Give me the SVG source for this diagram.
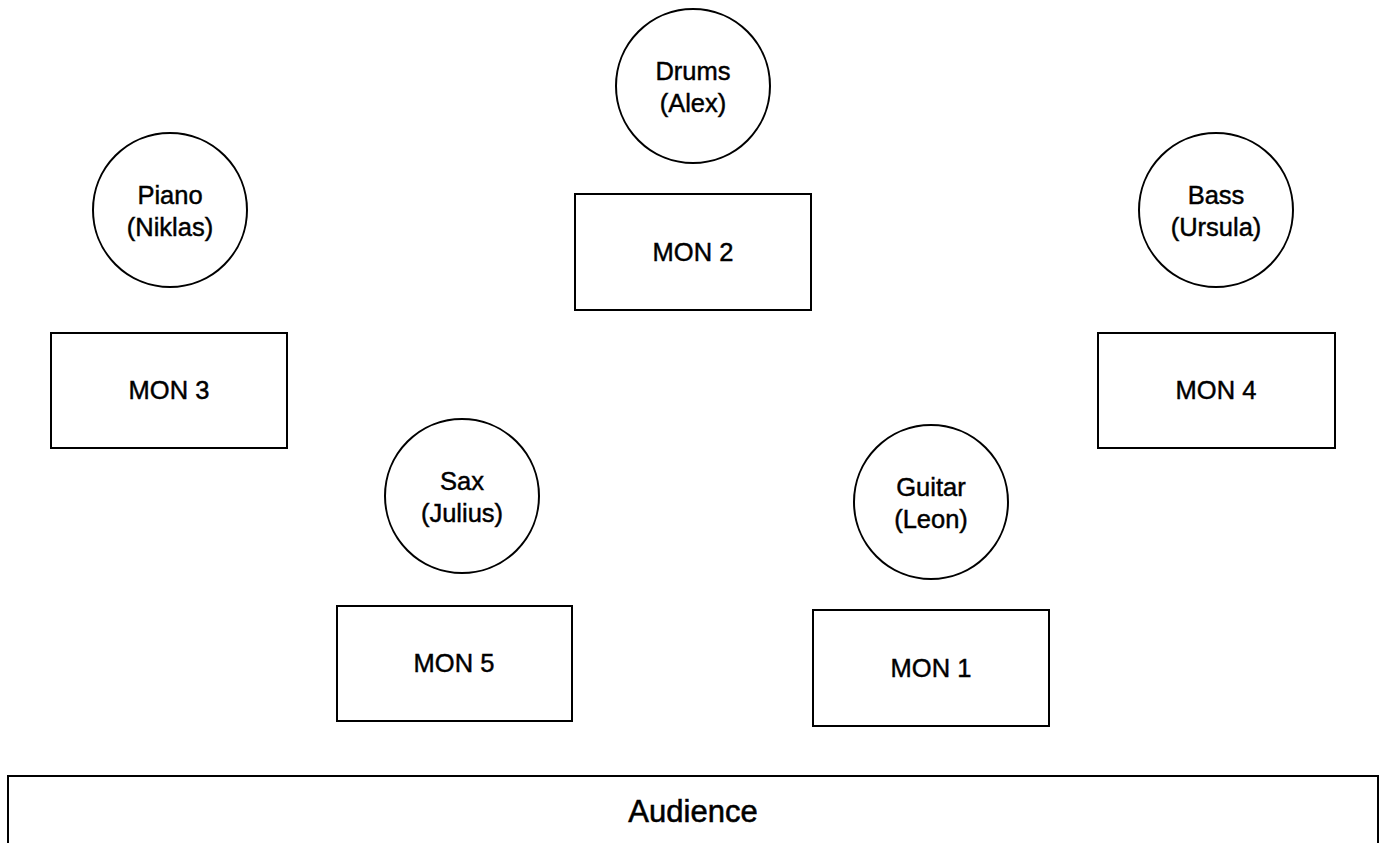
<svg xmlns="http://www.w3.org/2000/svg" width="1387" height="843" viewBox="0 0 1387 843">
<style>
.s{fill:#fff;stroke:#000;stroke-width:2}
.t{font-family:"Liberation Sans",Arial,sans-serif;font-size:25.5px;fill:#000;stroke:#000;stroke-width:0.45;text-anchor:middle}
.a{font-size:31px;stroke-width:0.55}
</style>
<rect x="0" y="0" width="1387" height="843" fill="#fff"/>
<g id="connectors"></g>
<g id="drums"><circle class="s" cx="693" cy="86" r="77"/><text class="t" x="693" y="80">Drums</text><text class="t" x="693" y="112">(Alex)</text></g>
<g id="mon2"><rect class="s" x="575" y="194" width="236" height="116"/><text class="t" x="693" y="261">MON 2</text></g>
<g id="piano"><circle class="s" cx="170" cy="210" r="77"/><text class="t" x="170" y="204">Piano</text><text class="t" x="170" y="236">(Niklas)</text></g>
<g id="mon3"><rect class="s" x="51" y="333" width="236" height="115"/><text class="t" x="169" y="399">MON 3</text></g>
<g id="bass"><circle class="s" cx="1216" cy="210" r="77"/><text class="t" x="1216" y="204">Bass</text><text class="t" x="1216" y="236">(Ursula)</text></g>
<g id="mon4"><rect class="s" x="1098" y="333" width="237" height="115"/><text class="t" x="1216" y="399">MON 4</text></g>
<g id="sax"><circle class="s" cx="462" cy="496" r="77"/><text class="t" x="462" y="490">Sax</text><text class="t" x="462" y="522">(Julius)</text></g>
<g id="mon5"><rect class="s" x="337" y="606" width="235" height="115"/><text class="t" x="454" y="672">MON 5</text></g>
<g id="guitar"><circle class="s" cx="931" cy="502" r="77"/><text class="t" x="931" y="496">Guitar</text><text class="t" x="931" y="528">(Leon)</text></g>
<g id="mon1"><rect class="s" x="813" y="610" width="236" height="116"/><text class="t" x="931" y="677">MON 1</text></g>
<g id="audience"><rect class="s" x="8" y="776" width="1370" height="100"/><text class="t a" x="693" y="822">Audience</text></g>
</svg>
